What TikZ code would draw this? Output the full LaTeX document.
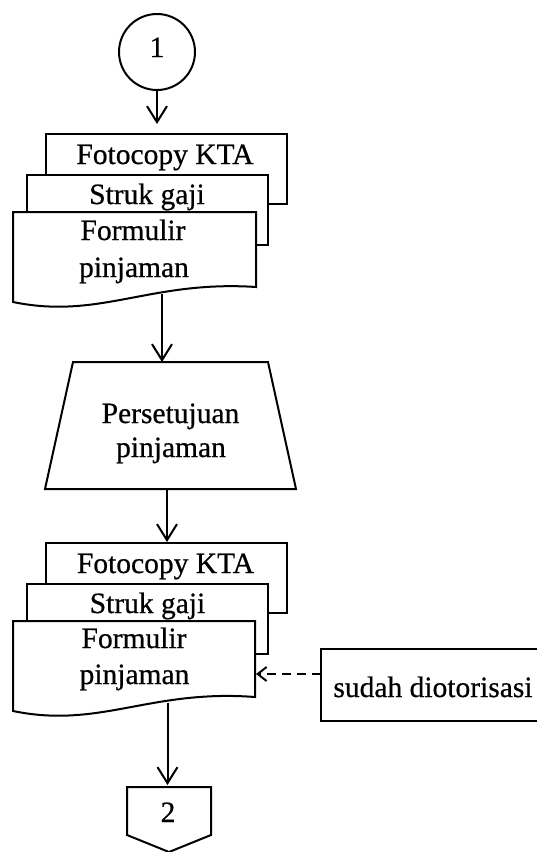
\documentclass[tikz,border=0pt]{standalone}
\usepackage{fontspec}
\setmainfont[FakeBold=0.6]{Liberation Serif}
\usetikzlibrary{arrows.meta,calc}
\begin{document}
\begin{tikzpicture}[x=1pt,y=-1pt,
  shp/.style={draw,line width=2pt,fill=white,line join=miter},
  docbox/.style={shp,rectangle,inner sep=0pt,minimum width=241pt,minimum height=70pt},
  lbl/.style={anchor=base,inner sep=0pt,font=\fontsize{29.5}{34}\selectfont},
  arr/.style={line width=2pt,-{Straight Barb[length=16pt,width=20pt]}},
  darr/.style={line width=2pt,dash pattern=on 9pt off 6pt,-{Straight Barb[length=9pt,width=14pt]}}]
\clip (0,0) rectangle (537,852);
\fill[white] (0,0) rectangle (537,852);
% connector 1
\node[shp,circle,minimum size=76pt,inner sep=0pt] (c1) at (157,52) {};
\node[lbl] (t1) at (157,57) {1};
% stack 1
\node[docbox] (back1) at (166.5,169) {};
\node[lbl] (tb1) at (165,164) {Fotocopy KTA};
\node[docbox] (mid1) at (147.5,210) {};
\node[lbl] (tm1) at (147,204) {Struk gaji};
\draw[shp] (13,212) -- (256,212) -- (256,287) .. controls (150,280) and (100,320) .. (13,302) -- cycle;
\coordinate (f1b) at (162,294);
\node[lbl] (tf1a) at (133,240) {Formulir};
\node[lbl] (tf1b) at (134,277) {pinjaman};
% trapezoid
\draw[shp] (73,362) -- (268,362) -- (296,489) -- (45,489) -- cycle;
\coordinate (trapT) at (162,362);
\coordinate (trapB) at (167,489);
\node[lbl] (tp1) at (170.5,423) {Persetujuan};
\node[lbl] (tp2) at (171,457) {pinjaman};
% stack 2
\node[docbox] (back2) at (166,578) {};
\node[lbl] (tb2) at (165.5,573) {Fotocopy KTA};
\node[docbox] (mid2) at (147,619) {};
\node[lbl] (tm2) at (147.5,613) {Struk gaji};
\draw[shp] (13,621) -- (255,621) -- (255,697) .. controls (150,689) and (100,729) .. (13,711) -- cycle;
\coordinate (f2b) at (167.5,703);
\coordinate (f2r) at (256,674);
\node[lbl] (tf2a) at (134,648) {Formulir};
\node[lbl] (tf2b) at (134.5,684) {pinjaman};
% note box
\draw[shp] (321,649) rectangle (560,721);
\coordinate (sudahL) at (321,674);
\node[lbl] (ts) at (433,697) {sudah diotorisasi};
% off-page connector
\draw[shp] (127,787) -- (211,787) -- (211,835) -- (169,852) -- (127,835) -- cycle;
\coordinate (offT) at (167.5,787);
\node[lbl] (t2) at (168,822) {2};
% connectors
\draw[arr,shorten >=9pt] (c1.south) -- (c1.south |- back1.north);
\draw[arr] (f1b) -- (trapT);
\draw[arr] (trapB) -- (trapB |- back2.north);
\draw[arr,shorten >=2pt] (f2b) -- (offT);
\draw[darr] (sudahL) -- (f2r);
\end{tikzpicture}
\end{document}
